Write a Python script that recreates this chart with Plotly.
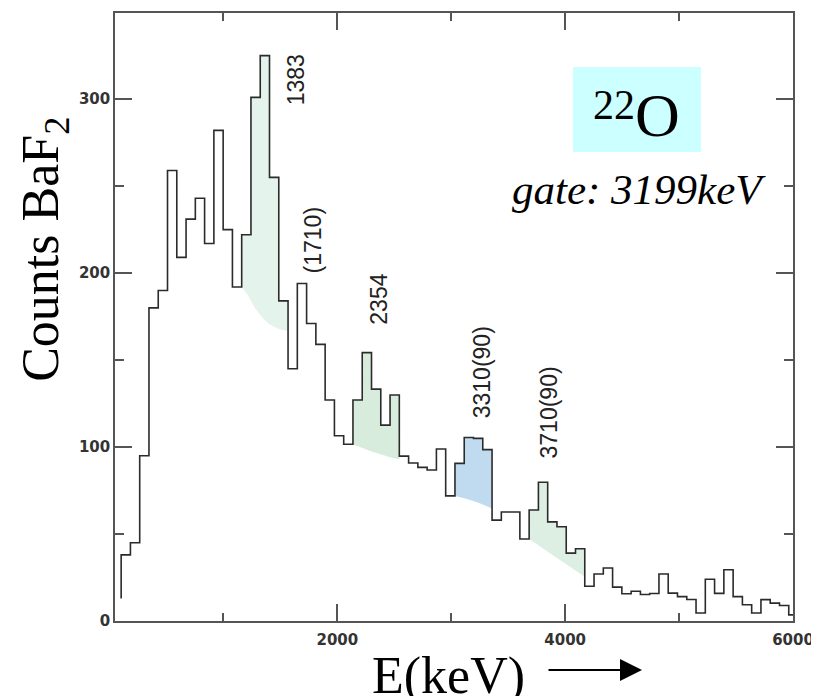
import plotly.graph_objects as go

# ---- data ----
bin_start = 102.0      # keV, left edge of first bin
bin_width = 81.4       # keV
start_level = 13       # where the drawn line starts at the first edge
counts = [38, 45, 95, 180, 190, 259, 209, 231, 243, 217, 282, 225, 192, 222, 301,
          325, 255, 184, 145, 194, 171, 159, 127, 106.5, 101.6, 127, 154.3, 133.3,
          112.6, 129.9, 94.8, 90.8, 88.3, 86.8, 98.9, 71.9, 90.6, 105.5, 105, 98.5,
          58, 62.7, 62.7, 47.1, 63.8, 79.8, 57, 54.2, 39, 41.5, 20, 27, 30.5, 19.5,
          15.7, 17.1, 15.2, 15.8, 27, 16, 14, 12.4, 4.6, 24, 15.9, 29.5, 14, 9.3,
          4.6, 12.3, 10.3, 8.9, 3.5]
x_end = 6000

# shaded peak regions: (first bin index, last bin index + 1)
peak_bins = [(13, 18), (25, 30), (36, 40), (44, 50)]
# background curves under each peak
bg_x = [[1160, 1217, 1275, 1334, 1392, 1480, 1567],
        [2137, 2220, 2300, 2380, 2460, 2544],
        [3032, 3114, 3195, 3277, 3358],
        [3684, 3800, 3905, 4000, 4100, 4172]]
bg_y = [[192, 187, 180, 175, 171, 168, 166.5],
        [101.6, 99.5, 97.5, 95.8, 94.2, 92.8],
        [71.9, 70.6, 69.0, 67.0, 64.7],
        [47.1, 42.0, 37.2, 33.0, 28.6, 25.5]]
peak_colors = ["#e4f3ec", "#d8ecdd", "#c0dbf0", "#dcefe2"]

peak_labels = ["1383", "(1710)", "2354", "3310(90)", "3710(90)"]
peak_label_x = [1640, 1790, 2370, 3270, 3860]
peak_label_y = [311, 219, 185, 143, 120]

xtick_vals = [2000, 4000, 6000]
ytick_vals = [0, 100, 200, 300]

# ---- figure ----
edges = [bin_start + i * bin_width for i in range(len(counts))]
fig = go.Figure()

for (a, b), bx, by, col in zip(peak_bins, bg_x, bg_y, peak_colors):
    px, py = [edges[a]], [by[0]]
    for k in range(a, b):
        right = edges[k] + bin_width
        px += [edges[k], right]
        py += [counts[k], counts[k]]
    px += list(reversed(bx))
    py += list(reversed(by))
    fig.add_trace(go.Scatter(x=px, y=py, fill="toself", fillcolor=col,
                             mode="none", hoverinfo="skip", showlegend=False))

line_x = [edges[0]] + edges + [x_end]
line_y = [start_level] + counts + [counts[-1]]
fig.add_trace(go.Scatter(x=line_x, y=line_y, mode="lines", line_shape="hv",
                         line=dict(color="#2b2b2b", width=1.6),
                         showlegend=False, hoverinfo="skip"))

for t, x, y in zip(peak_labels, peak_label_x, peak_label_y):
    fig.add_annotation(x=x, y=y, text=t, showarrow=False, textangle=-90,
                       xanchor="center", yanchor="middle",
                       font=dict(family="Liberation Sans", size=23, color="#222"))

axis_common = dict(showline=True, linecolor="#555", linewidth=1.5, mirror="ticks",
                   ticks="inside", tickcolor="#555", tickwidth=1.5, ticklen=17,
                   showgrid=False, zeroline=False, automargin=False,
                   tickfont=dict(family="DejaVu Sans", size=15, color="#333", weight="bold"))

fig.update_xaxes(range=[48, 6000], tickvals=xtick_vals, ticklabelstandoff=4,
                 minor=dict(ticks="inside", dtick=1000, tick0=0, ticklen=8,
                            tickcolor="#555", tickwidth=1.5, showgrid=False),
                 **axis_common)
fig.update_yaxes(range=[0, 349.5], tickvals=ytick_vals,
                 minor=dict(ticks="inside", dtick=50, tick0=0, ticklen=9,
                            tickcolor="#555", tickwidth=1.5, showgrid=False),
                 **axis_common)

# 22O box
fig.add_shape(type="rect", xref="paper", yref="paper", x0=0.6755, x1=0.8643,
              y0=0.7714, y1=0.9112, fillcolor="#ccffff", line=dict(width=0), layer="below")
fig.add_annotation(xref="paper", yref="paper", x=0.736, y=0.8487, text="22",
                   xanchor="center", yanchor="middle", showarrow=False,
                   font=dict(family="Liberation Serif", size=42, color="#000"))
fig.add_annotation(xref="paper", yref="paper", x=0.8001, y=0.8330, text="O",
                   xanchor="center", yanchor="middle", showarrow=False,
                   font=dict(family="Liberation Serif", size=62, color="#000"))
fig.add_annotation(xref="paper", yref="paper", x=0.7729, y=0.7089,
                   text="gate: 3199keV", showarrow=False,
                   xanchor="center", yanchor="middle",
                   font=dict(family="Liberation Serif", size=43, color="#000", style="italic"))

# axis titles
fig.add_annotation(xref="paper", yref="paper", x=-0.1032, y=0.6105, text="Counts BaF<sub>2</sub>",
                   textangle=-90, showarrow=False, xanchor="center", yanchor="middle",
                   font=dict(family="Liberation Serif", size=52, color="#000"))
fig.add_annotation(xref="paper", yref="paper", x=0.4912, y=-0.0905, text="E(keV)",
                   showarrow=False, xanchor="center", yanchor="middle",
                   font=dict(family="Liberation Serif", size=52, color="#000"))
fig.add_annotation(xref="paper", yref="paper", x=0.7773, y=-0.0806, text="",
                   showarrow=True, ax=-95, ay=0, arrowhead=2, arrowsize=2.2,
                   arrowwidth=2, arrowcolor="#000")

# the page body adds an 8px offset, so the figure is 8px smaller on each side
fig.update_layout(width=811, height=688, margin=dict(l=107, r=26, t=5, b=75),
                  paper_bgcolor="white", plot_bgcolor="white")

fig.write_html("out.html")
